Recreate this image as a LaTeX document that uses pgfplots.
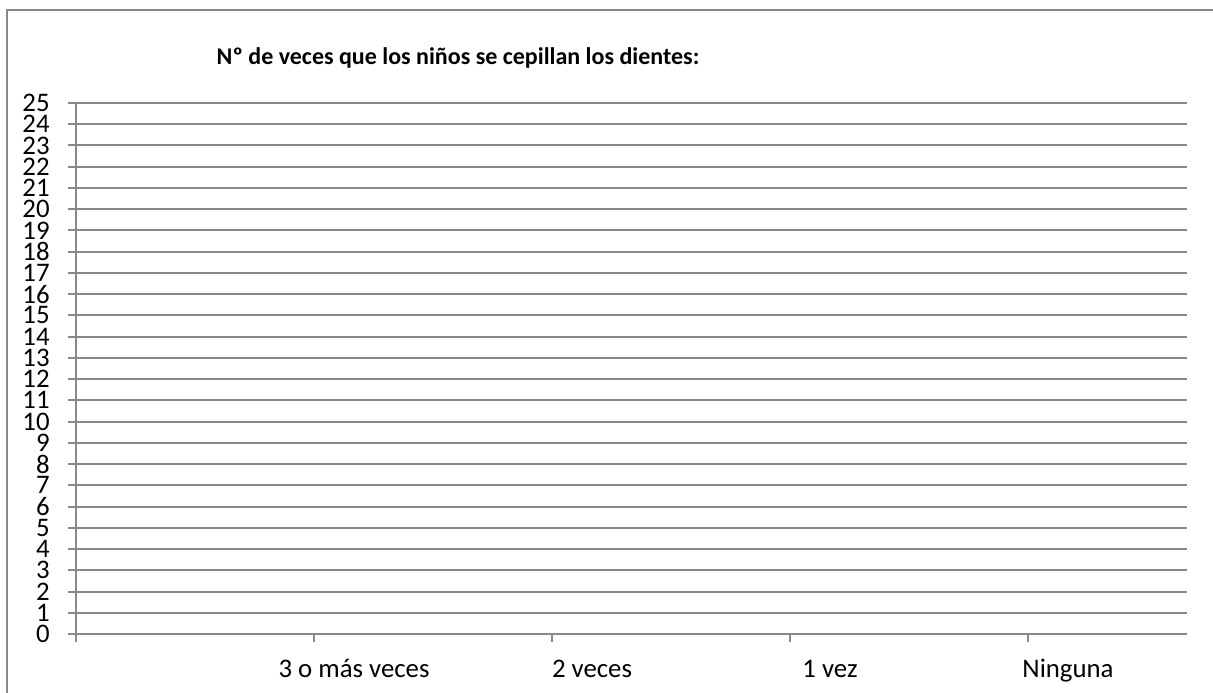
\documentclass[border=0pt]{standalone}
\usepackage{fontspec}
\setmainfont{Carlito}
\usepackage{pgfplots}
\pgfplotsset{compat=1.18}
\definecolor{gridgray}{HTML}{898989}
\begin{document}
\begin{tikzpicture}
\begin{axis}[
  at={(38bp,29.5bp)}, anchor=south west,
  scale only axis, width=555.5bp, height=265.5bp,
  xmin=0, xmax=1111, ymin=0, ymax=25,
  axis x line=bottom, axis y line=left,
  axis line style={gridgray, line width=1bp, -},
  tick style={gridgray, line width=1bp},
  tick align=outside,
  major tick length=4bp,
  ytick={0,1,...,25},
  ymajorgrids,
  grid style={gridgray, line width=1bp},
  xtick={0,238,476,714,952},
  xticklabels={,3 o más veces,2 veces,1 vez,Ninguna},
  xticklabel style={font=\fontsize{13.4bp}{14bp}\selectfont, text height=10bp, text depth=3bp, xshift=20bp, yshift=-4bp},
  yticklabel style={font=\fontsize{13.4bp}{11bp}\selectfont, inner sep=0pt, xshift=-9bp},
  /pgf/number format/assume math mode=true,
  clip=false,
]
\addplot[draw=none] coordinates {(0,0) (1111,0)};
\end{axis}
\node[font=\bfseries\fontsize{12bp}{14bp}\selectfont] at (229bp,317.5bp) {Nº de veces que los niños se cepillan los dientes:};
\draw[gridgray, line width=1bp] (3.5bp,0bp) -- (3.5bp,341.5bp) -- (606.5bp,341.5bp);
\pgfresetboundingbox
\useasboundingbox (0,0) rectangle (606.5bp,346.5bp);
\end{tikzpicture}
\end{document}
